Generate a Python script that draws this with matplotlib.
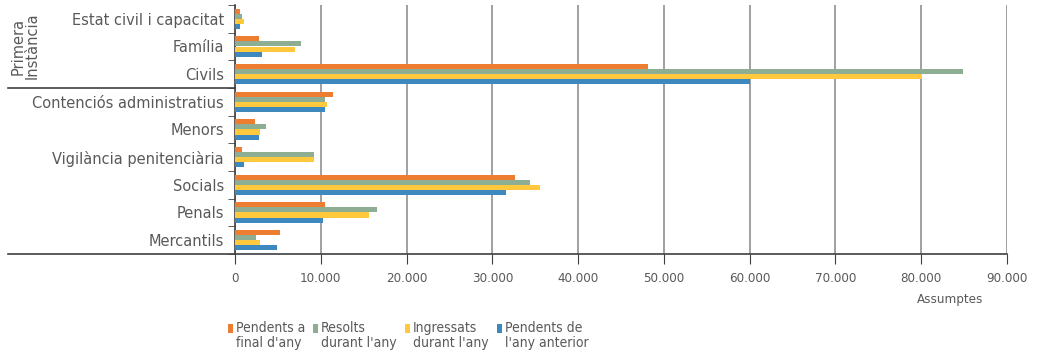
import matplotlib
matplotlib.use("Agg")
import matplotlib.pyplot as plt
from matplotlib.lines import Line2D
from matplotlib.patches import Rectangle
import matplotlib.transforms as mtransforms

categories = ["Estat civil i capacitat", "Família", "Civils", "Contenciós administratius",
              "Menors", "Vigilància penitenciària", "Socials", "Penals", "Mercantils"]
pendents_final = [640, 2800, 48100, 11400, 2300, 820, 32600, 10500, 5300]
resolts = [800, 7650, 84850, 10500, 3570, 9170, 34400, 16500, 2500]
ingressats = [1050, 7030, 80100, 10700, 2950, 9170, 35600, 15600, 2950]
pendents_anterior = [580, 3150, 60000, 10500, 2760, 1010, 31600, 10300, 4860]
series_labels = ["Pendents a\nfinal d'any", "Resolts\ndurant l'any",
                 "Ingressats\ndurant l'any", "Pendents de\nl'any anterior"]
colors = ["#ED7D31", "#8DAE92", "#FFC83D", "#3E88C0"]
xticks = list(range(0, 90001, 10000))
xticklabels = ["0" if v == 0 else f"{v:,}".replace(",", ".") for v in xticks]

txt = "#595959"
cond = dict(family="DejaVu Sans", stretch="condensed")

W, H = 1041, 358
fig = plt.figure(figsize=(W/100, H/100), dpi=100)
ax = fig.add_axes([235/W, 1-254/H, (1007-235)/W, (254-5)/H])

h = 0.185
ys = list(range(len(categories)))
for k, (vals, col) in enumerate(zip([pendents_final, resolts, ingressats, pendents_anterior], colors)):
    off = (k - 1.5) * h
    ax.barh([y + off for y in ys], vals, height=h, color=col, zorder=3)

ax.set_ylim(len(categories) - 0.5, -0.5)
ax.set_xlim(0, 90000)
ax.set_yticks(ys)
ax.set_yticklabels(categories, fontsize=10.5, color=txt, family="DejaVu Sans")
ax.set_yticks([y - 0.5 for y in ys] + [len(categories) - 0.5], minor=True)
ax.tick_params(axis="y", which="major", length=0, pad=8)
ax.tick_params(axis="y", which="minor", length=5, color="#404040", direction="out")
ax.set_xticks(xticks)
ax.set_xticklabels(xticklabels, fontsize=9.5, color=txt, **cond)
ax.tick_params(axis="x", length=7, color="#404040", pad=6)
ax.grid(axis="x", color="#a0a0a0", linewidth=1.4, zorder=0)
ax.grid(axis="y", visible=False)
ax.set_axisbelow(True)
for s in ["top", "right"]:
    ax.spines[s].set_visible(False)
for s in ["left", "bottom"]:
    ax.spines[s].set_color("#404040")
    ax.spines[s].set_linewidth(1.2)

tr = mtransforms.blended_transform_factory(fig.transFigure, ax.transData)
for yv in [2.5, len(categories) - 0.5]:
    fig.add_artist(Line2D([8/W, 235/W], [yv, yv], transform=tr,
                          color="#404040", linewidth=1.2, clip_on=False))

fig.text(25/W, 1-46/H, "Primera\nInstància", rotation=90, ha="center", va="center",
         fontsize=10.5, color=txt, linespacing=0.95, family="DejaVu Sans")

fig.text(950/W, 1-300/H, "Assumptes", ha="center", va="center",
         fontsize=9.5, color=txt, **cond)

# legend
mark_x = [228, 313, 405, 497]
for mx, col, lab in zip(mark_x, colors, series_labels):
    fig.add_artist(Rectangle((mx/W, 1-333/H), 5/W, 9/H, transform=fig.transFigure,
                             facecolor=col, edgecolor="none"))
    fig.text((mx + 8)/W, 1-321/H, lab, ha="left", va="top", fontsize=10,
             color=txt, linespacing=1.1, **cond)

fig.savefig("out.png", dpi=100)
